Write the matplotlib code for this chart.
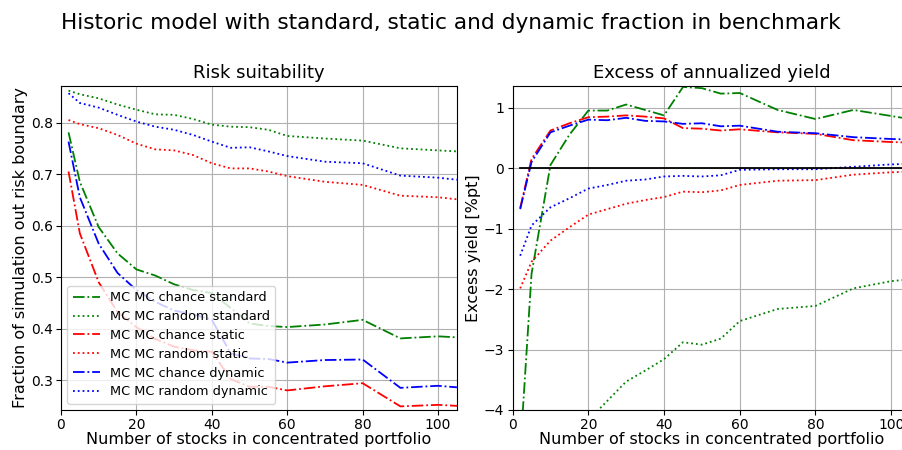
import matplotlib
matplotlib.use('Agg')
import matplotlib.pyplot as plt
import numpy as np

# number of stocks in the concentrated portfolio
n_stocks = [2, 5, 10, 15, 20, 25, 30, 35, 40, 45, 50, 55, 60, 70, 80, 90, 100, 105]

# fraction of simulations out of the risk boundary
risk_chance_standard = [0.781, 0.685, 0.597, 0.546, 0.515, 0.503, 0.486, 0.475, 0.469, 0.440, 0.410, 0.405,
                        0.403, 0.408, 0.417, 0.381, 0.385, 0.383]
risk_random_standard = [0.862, 0.855, 0.847, 0.835, 0.825, 0.816, 0.815, 0.807, 0.796, 0.792, 0.791, 0.786,
                        0.774, 0.769, 0.765, 0.750, 0.746, 0.744]
risk_chance_static = [0.705, 0.585, 0.490, 0.432, 0.403, 0.380, 0.365, 0.358, 0.355, 0.302, 0.287, 0.287,
                      0.280, 0.288, 0.294, 0.249, 0.252, 0.250]
risk_random_static = [0.805, 0.797, 0.789, 0.776, 0.759, 0.748, 0.746, 0.737, 0.721, 0.711, 0.711, 0.705,
                      0.696, 0.685, 0.679, 0.658, 0.655, 0.651]
risk_chance_dynamic = [0.763, 0.655, 0.565, 0.508, 0.475, 0.452, 0.435, 0.428, 0.417, 0.352, 0.342, 0.341,
                       0.334, 0.339, 0.340, 0.285, 0.289, 0.286]
risk_random_dynamic = [0.857, 0.838, 0.829, 0.815, 0.802, 0.792, 0.786, 0.776, 0.763, 0.751, 0.752, 0.744,
                       0.735, 0.724, 0.721, 0.697, 0.693, 0.689]

# excess of annualized yield [%pt]
yield_chance_standard = [-4.7, -1.75, 0.05, 0.55, 0.95, 0.95, 1.05, 0.96, 0.87, 1.34, 1.32, 1.23,
                         1.24, 0.96, 0.81, 0.96, 0.86, 0.81]
yield_random_standard = [-9.0, -7.0, -5.6, -4.7, -4.17, -3.85, -3.53, -3.35, -3.16, -2.88, -2.92, -2.82,
                         -2.53, -2.33, -2.28, -1.99, -1.87, -1.84]
yield_chance_static = [-0.66, 0.15, 0.62, 0.74, 0.84, 0.85, 0.87, 0.85, 0.82, 0.66, 0.65, 0.62,
                       0.64, 0.59, 0.565, 0.46, 0.43, 0.42]
yield_random_static = [-1.99, -1.55, -1.20, -0.98, -0.77, -0.68, -0.59, -0.53, -0.48, -0.39, -0.40, -0.37,
                       -0.28, -0.21, -0.20, -0.11, -0.07, -0.06]
yield_chance_dynamic = [-0.68, 0.10, 0.59, 0.70, 0.80, 0.79, 0.83, 0.78, 0.77, 0.73, 0.74, 0.69,
                        0.70, 0.60, 0.575, 0.51, 0.48, 0.47]
yield_random_dynamic = [-1.45, -0.95, -0.65, -0.50, -0.34, -0.28, -0.21, -0.19, -0.14, -0.13, -0.14, -0.12,
                        -0.03, -0.02, -0.02, 0.02, 0.06, 0.07]

labels = ['MC MC chance standard', 'MC MC random standard',
          'MC MC chance static', 'MC MC random static',
          'MC MC chance dynamic', 'MC MC random dynamic']

fig = plt.figure(figsize=(9.02, 4.5), dpi=100)
fig.suptitle('Historic model with standard, static and dynamic fraction in benchmark', fontsize=15.6, y=0.972)

ax1 = fig.add_axes([0.0676, 0.0889, 0.439, 0.72])
ax2 = fig.add_axes([0.5683, 0.0889, 0.4407, 0.72])

risk = [risk_chance_standard, risk_random_standard, risk_chance_static,
        risk_random_static, risk_chance_dynamic, risk_random_dynamic]
excess = [yield_chance_standard, yield_random_standard, yield_chance_static,
          yield_random_static, yield_chance_dynamic, yield_random_dynamic]
styles = ['g-.', 'g:', 'r-.', 'r:', 'b-.', 'b:']

for r, st, lab in zip(risk, styles, labels):
    ax1.plot(n_stocks, r, st, label=lab, lw=1.3)
ax1.set_title('Risk suitability', fontsize=13)
ax1.set_xlabel('Number of stocks in concentrated portfolio', fontsize=11.5, labelpad=0)
ax1.set_ylabel('Fraction of simulation out risk boundary', fontsize=11.5, labelpad=2)
ax1.set_xlim(0, 105)
ax1.set_ylim(0.242, 0.871)
ax1.grid(True)
ax1.legend(loc='lower left', fontsize=9.3, labelspacing=0.45, handlelength=2.1)

for e, st in zip(excess, styles):
    ax2.plot(n_stocks, e, st, lw=1.3)
ax2.plot(n_stocks, np.zeros(len(n_stocks)), 'k-', lw=1.3)
ax2.set_title('Excess of annualized yield', fontsize=13)
ax2.set_xlabel('Number of stocks in concentrated portfolio', fontsize=11.5, labelpad=0)
ax2.set_ylabel('Excess yield [%pt]', fontsize=11.5, labelpad=2)
ax2.set_xlim(0, 105)
ax2.set_ylim(-4, 1.356)
ax2.grid(True)

for ax in (ax1, ax2):
    ax.tick_params(labelsize=10, pad=2.5)

fig.savefig('out.png', dpi=100)
